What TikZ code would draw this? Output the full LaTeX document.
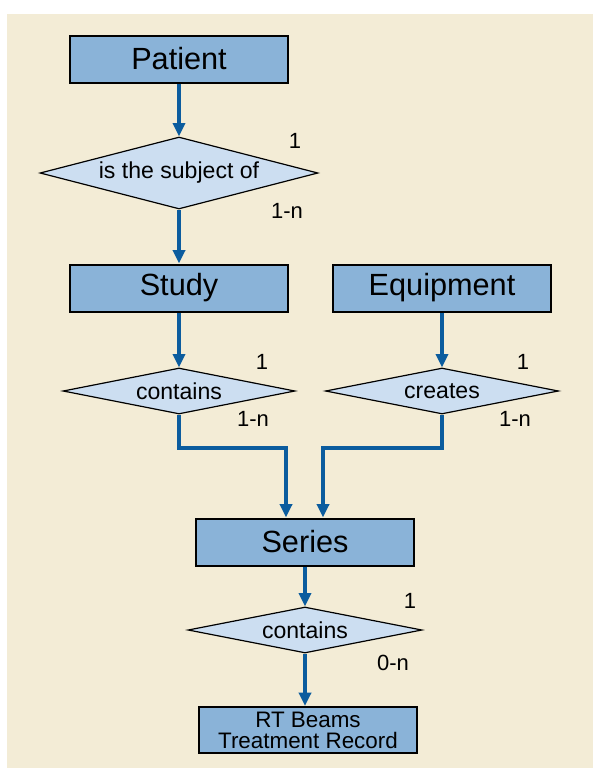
\documentclass[tikz,border=0pt]{standalone}
\usepackage{fontspec}
\setmainfont{Liberation Sans}
\usetikzlibrary{shapes.geometric,arrows.meta}
\definecolor{bgbeige}{HTML}{F3ECD6}
\definecolor{boxblue}{HTML}{8AB3D8}
\definecolor{relblue}{HTML}{CCDEF1}
\definecolor{linkblue}{HTML}{0B5C9E}
\begin{document}
\begin{tikzpicture}[x=0.75pt,y=-0.75pt,
  entity/.style={draw=black, line width=1.5pt, fill=boxblue, minimum width=163.5pt,
    minimum height=35.25pt, inner sep=0pt, font=\fontsize{23}{24}\selectfont},
  relation/.style={diamond, draw=black, line width=0.9pt, fill=relblue, inner sep=0pt,
    aspect=5, font=\fontsize{17.3}{18}\selectfont},
  card/.style={inner sep=0pt, font=\fontsize{16.5}{18}\selectfont},
  link/.style={draw=linkblue, line width=3pt, -{Triangle[length=10pt,width=9pt]}}]
  % Background
  \fill[white] (0,0) rectangle (593,768);
  \fill[bgbeige] (7,14) rectangle (593,768);
  % Entities and relations
  \node[entity] (patient) at (179,59) {Patient};
  \node[relation, aspect=3.9, minimum width=208.5pt, minimum height=54pt] (subject) at (179,173) {is the subject of};
  \node[entity] (study) at (179,288) {Study};
  \node[entity] (equipment) at (442,288) {Equipment};
  \node[relation, minimum width=174pt, minimum height=34.5pt] (contstudy) at (179,391) {contains};
  \node[relation, minimum width=174.75pt, minimum height=34.5pt] (creates) at (442,391) {creates};
  \node[entity] (series) at (305,542) {Series};
  \node[relation, minimum width=175.5pt, minimum height=34.5pt] (contseries) at (305,630) {contains};
  \node[entity, minimum height=34.5pt, align=center, font=\fontsize{16.8}{15.8}\selectfont]
    (rtbeams) at (308,730) {RT Beams\\Treatment Record};
  % Links
  \draw[link] (patient.south) -- (subject.north);
  \draw[link] (subject.south) -- (study.north);
  \draw[link] (study.south) -- (contstudy.north);
  \draw[link] (equipment.south) -- (creates.north);
  \draw[link] (contstudy.south) -- ++(0,33) -| ([xshift=-14.25pt]series.north);
  \draw[link] (creates.south) -- ++(0,33) -| ([xshift=13.5pt]series.north);
  \draw[link] (series.south) -- (contseries.north);
  \draw[link] (contseries.south) -- (contseries.south |- rtbeams.north);
  % Cardinalities
  \foreach \x/\y/\v/\n in {
      295/141/1/a, 287/211/1-n/b,
      262/362/1/c, 253/419/1-n/d,
      523/362/1/e, 515/419/1-n/f,
      410/601/1/g, 393/663/0-n/h}
  {
    \node[card] (card\n) at (\x,\y) {\v};
  }
\end{tikzpicture}
\end{document}
